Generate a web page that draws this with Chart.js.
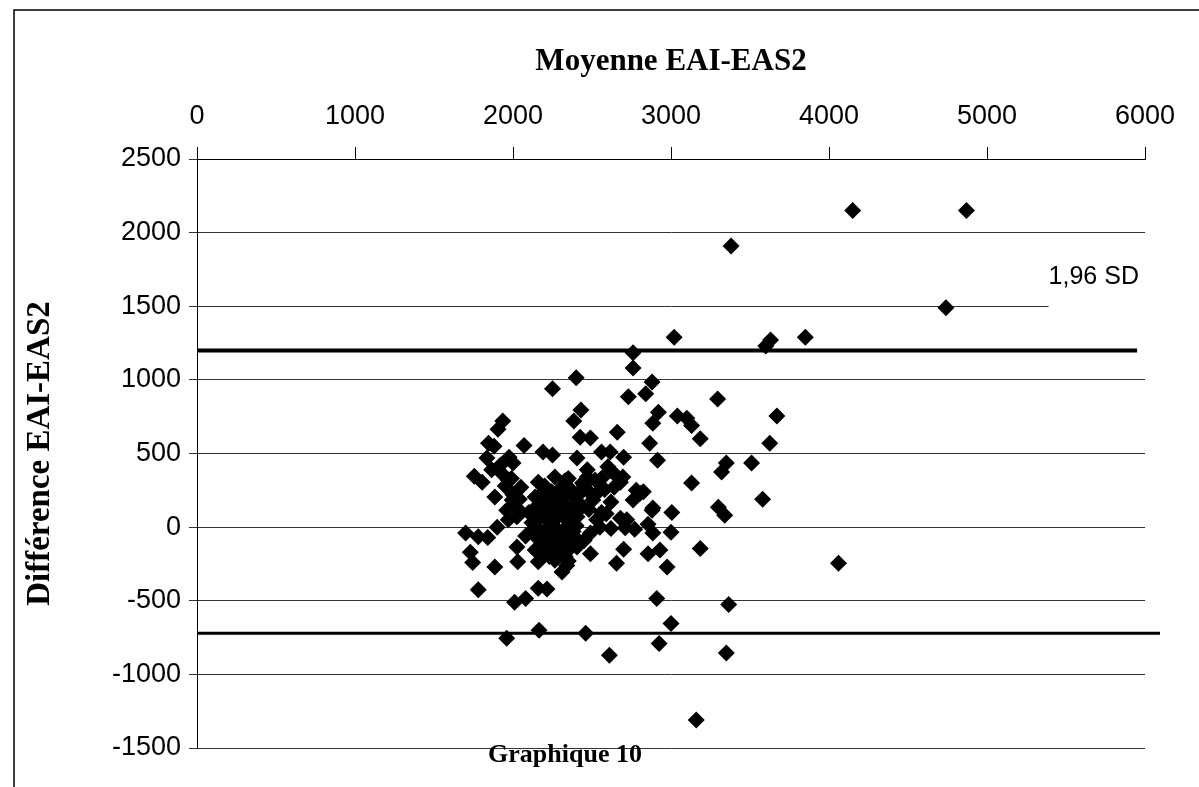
<!DOCTYPE html>
<html>
<head>
<meta charset="utf-8">
<script src="https://cdn.jsdelivr.net/npm/chart.js@4.4.0/dist/chart.umd.min.js"></script>
<style>
  html, body { margin: 0; padding: 0; background: #fff; }
</style>
</head>
<body>
<canvas id="chart" width="1199" height="787"></canvas>
<script>
// Bland-Altman: moyenne (x) vs difference (y)
const xMean = [
  4150, 4870, 3380, 4740, 3020, 3850, 3630, 3600, 2760, 2760,
  2400, 2250, 2880, 2730, 2840, 3295, 3670, 2920, 2885, 3040,
  3100, 3130, 3185, 3625, 2430, 2385, 2660, 2865, 2425, 2490,
  1935, 1905, 1845, 2070, 2190, 2250, 1835, 1975, 2000, 2405,
  2560, 2615, 2700, 2915, 3350, 3320, 3510, 2615, 2680, 3130,
  2825, 3580, 1755, 1865, 1930, 1805, 1970, 2160, 2265, 2330,
  2470, 2470, 2640, 2695, 2760, 2805, 2885, 3005, 3300, 3340,
  1885, 2000, 2140, 2245, 2025, 2200, 2310, 2375, 1970, 2160,
  2245, 1900, 2425, 2505, 2405, 2530, 2125, 2710, 1995, 2170,
  2215, 2330, 2680, 2620, 2580, 2360, 2300, 2420, 2100, 2050,
  2280, 2350, 2480, 2560, 1700, 1780, 1840, 1730, 1745, 1885,
  2025, 2030, 1780, 2010, 2080, 2160, 2215, 1960, 2165, 2460,
  2610, 2140, 2160, 2265, 2310, 2190, 2265, 2180, 2280, 2380,
  2490, 2550, 2620, 2770, 2885, 3000, 2405, 2490, 2700, 2855,
  2930, 2655, 2975, 2910, 3000, 2925, 3365, 3350, 3160, 3185,
  4060, 2370, 2340, 2450, 2080, 2330, 2230, 2360, 1960, 2025,
  2855, 2880, 2780, 2720, 2200, 2290, 2390, 2440, 2150, 2230,
  2320, 2400, 2260, 2350, 2185, 2215, 2240, 2270, 2300, 2330,
  2190, 2230, 2275, 2320, 2205, 2250, 2295, 2345, 2385, 2420,
  2120, 2150, 2180, 2230, 2260, 2310, 2350, 1950, 1990, 2040,
  1920, 1880, 2560, 2600, 2640, 2540, 2590, 2450, 2480, 2520
];
const yDiff = [
  2150, 2150, 1910, 1490, 1290, 1290, 1270, 1230, 1185, 1080,
  1015, 940, 985, 885, 905, 870, 755, 780, 705, 755,
  740, 690, 600, 570, 795, 720, 645, 570, 610, 605,
  720, 665, 570, 555, 510, 490, 470, 475, 435, 470,
  510, 510, 475, 455, 435, 375, 435, 385, 305, 300,
  240, 190, 345, 390, 365, 305, 320, 305, 340, 315,
  390, 340, 365, 340, 185, 230, 130, 100, 135, 80,
  205, 220, 205, 240, 130, 135, 135, 95, 50, 50,
  25, 0, 230, 185, 70, 50, -20, -5, 185, 185,
  55, 150, 60, 170, 255, 260, 210, 160, 100, 270,
  90, 40, 120, 100, -40, -65, -70, -170, -240, -270,
  -135, -235, -425, -510, -485, -415, -420, -755, -700, -720,
  -870, -155, -235, -225, -305, -110, -135, -40, -20, -30,
  -40, 0, -10, -15, -40, -35, -135, -180, -150, -180,
  -155, -245, -270, -485, -655, -790, -525, -855, -1310, -145,
  -245, -135, -260, -90, -60, -200, -160, -80, 115, 70,
  20, 115, 250, 50, 280, 160, 200, 300, 140, -60,
  -100, 10, 110, 330, 230, 190, 170, 210, 260, 230,
  80, 100, 60, 90, -20, -90, -50, 10, -60, 120,
  30, -70, -180, -200, -170, -140, -230, 280, 330, 190,
  420, 550, 330, 410, 270, 240, 90, 280, 240, 320
];

// limits of agreement (mean +/- 1,96 SD)
const upperLimit = 1200;
const lowerLimit = -720;
const upperLineX = [0, 5950];
const lowerLineX = [0, 6095];

const xTitle = 'Moyenne EAI-EAS2';
const yTitle = 'Différence EAI-EAS2';
const sdLabel = '1,96 SD';
const caption = 'Graphique 10';

const points = xMean.map((x, i) => ({ x: x, y: yDiff[i] }));

const decorations = {
  id: 'decorations',
  beforeDatasetsDraw(chart) {
    const { ctx, scales: { x, y }, chartArea } = chart;
    // the 1500 grid line stops short where the label box sits
    ctx.save();
    ctx.fillStyle = '#fff';
    const gy = y.getPixelForValue(1500);
    const gx = x.getPixelForValue(5390);
    ctx.fillRect(gx, gy - 3, chartArea.right - gx + 2, 6);
    ctx.restore();
  },
  afterDraw(chart) {
    const { ctx, scales: { x, y } } = chart;
    ctx.save();
    // outer frame
    ctx.strokeStyle = '#000';
    ctx.lineWidth = 1.5;
    ctx.beginPath();
    ctx.moveTo(14, 787);
    ctx.lineTo(14, 10);
    ctx.lineTo(1199, 10);
    ctx.stroke();

    ctx.fillStyle = '#000';
    ctx.font = '25px "Liberation Sans", Arial, sans-serif';
    ctx.textAlign = 'left';
    ctx.textBaseline = 'middle';
    ctx.fillText(sdLabel, x.getPixelForValue(5390), y.getPixelForValue(1700));

    ctx.font = 'bold 26px "Liberation Serif", "Times New Roman", serif';
    ctx.textAlign = 'center';
    ctx.fillText(caption, 565, 755);
    ctx.restore();
  }
};

const plain = (v) => String(v);

new Chart(document.getElementById('chart'), {
  type: 'scatter',
  data: {
    datasets: [
      {
        type: 'line',
        data: upperLineX.map((v) => ({ x: v, y: upperLimit })),
        borderColor: '#000',
        borderWidth: 4,
        pointRadius: 0,
        clip: false,
      },
      {
        type: 'line',
        data: lowerLineX.map((v) => ({ x: v, y: lowerLimit })),
        borderColor: '#000',
        borderWidth: 3,
        pointRadius: 0,
        clip: false,
      },
      {
        data: points,
        pointStyle: 'rectRot',
        pointRadius: 8.5,
        pointBackgroundColor: '#000',
        pointBorderWidth: 0,
        clip: false,
      },
    ],
  },
  options: {
    responsive: false,
    animation: false,
    layout: { padding: { left: 0, top: 0, right: 54, bottom: 39 } },
    plugins: {
      legend: { display: false },
      tooltip: { enabled: false },
    },
    scales: {
      x: {
        type: 'linear',
        position: 'top',
        min: 0,
        max: 6000,
        afterFit: (s) => { s.height = 159; },
        ticks: {
          stepSize: 1000,
          padding: 14,
          color: '#000',
          callback: plain,
          font: { family: '"Liberation Sans", Arial, sans-serif', size: 27 },
        },
        grid: { drawOnChartArea: false, drawTicks: true, tickLength: 12, color: '#000' },
        border: { display: true, color: '#000', width: 1 },
        title: {
          display: true,
          text: xTitle,
          color: '#000',
          padding: { top: 43, bottom: 0 },
          font: { family: '"Liberation Serif", "Times New Roman", serif', size: 31, weight: 'bold' },
        },
      },
      y: {
        type: 'linear',
        min: -1500,
        max: 2500,
        afterFit: (s) => { s.width = 197; },
        ticks: {
          stepSize: 500,
          padding: 8,
          color: '#000',
          callback: plain,
          font: { family: '"Liberation Sans", Arial, sans-serif', size: 27 },
        },
        grid: { color: '#333', lineWidth: 1, drawTicks: true, tickLength: 8 },
        border: { display: true, color: '#000', width: 1 },
        title: {
          display: true,
          text: yTitle,
          color: '#000',
          padding: { top: 21, bottom: 0 },
          font: { family: '"Liberation Serif", "Times New Roman", serif', size: 33, weight: 'bold' },
        },
      },
    },
  },
  plugins: [decorations],
});
</script>
</body>
</html>
